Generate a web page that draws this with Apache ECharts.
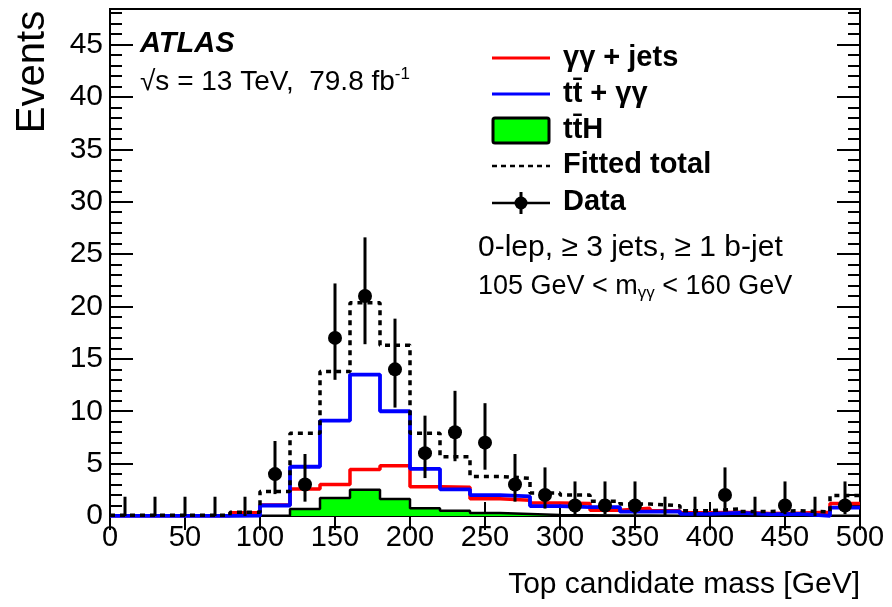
<!DOCTYPE html>
<html>
<head>
<meta charset="utf-8">
<script src="https://cdn.jsdelivr.net/npm/echarts@6/dist/echarts.min.js"></script>
<style>
html, body { margin: 0; padding: 0; background: #fff; }
#chart { width: 892px; height: 607px; }
</style>
</head>
<body>
<div id="chart"></div>
<script>
// 20 GeV bins, lower edges
var binEdges = [0, 20, 40, 60, 80, 100, 120, 140, 160, 180, 200, 220, 240, 260, 280, 300, 320, 340, 360, 380, 400, 420, 440, 460, 480];
var lastEdge = 500;

// gamma gamma + jets (red)
var ggJets = [0.03, 0.03, 0.03, 0.03, 0.3, 1.05, 2.57, 3.0, 4.45, 4.8, 2.8, 2.75, 1.65, 1.5, 1.24, 1.2, 0.55, 0.73, 0.5, 0.3, 0.35, 0.25, 0.28, 0.35, 1.2];
// ttbar + gamma gamma (blue)
var ttGG = [0.02, 0.02, 0.02, 0.02, 0.03, 1.0, 4.7, 9.1, 13.5, 10.0, 4.5, 2.55, 2.0, 1.87, 0.95, 0.85, 0.85, 0.41, 0.45, 0.2, 0.3, 0.18, 0.2, 0.02, 0.8];
// ttH (green)
var ttH = [0, 0, 0, 0, 0.02, 0.05, 0.67, 1.71, 2.5, 1.62, 0.73, 0.5, 0.28, 0.2, 0.1, 0.08, 0.05, 0.04, 0.03, 0.02, 0.02, 0.02, 0.02, 0.02, 0.02];
// fitted total (dashed)
var fitted = [0.06, 0.06, 0.06, 0.06, 0.35, 2.35, 7.9, 13.8, 20.35, 16.3, 7.9, 5.65, 3.78, 3.6, 2.2, 2.0, 1.4, 1.14, 0.98, 0.51, 0.67, 0.44, 0.5, 0.4, 1.95];

// data points at bin centres, with error bar ends
var dataX  = [10, 30, 50, 70, 90, 110, 130, 150, 170, 190, 210, 230, 250, 270, 290, 310, 330, 350, 370, 390, 410, 430, 450, 470, 490];
var dataY  = [0, 0, 0, 0, 0, 4, 3, 17, 21, 14, 6, 8, 7, 3, 2, 1, 1, 1, 0, 0, 2, 0, 1, 0, 1];
var dataLo = [0, 0, 0, 0, 0, 2.09, 1.37, 13.0, 16.4, 10.35, 3.62, 5.23, 4.42, 1.37, 0.71, 0.17, 0.17, 0.17, 0, 0, 0.71, 0, 0.17, 0, 0.17];
var dataHi = [1.84, 1.84, 1.84, 1.84, 1.84, 7.16, 5.92, 22.2, 26.6, 18.84, 9.58, 11.95, 10.77, 5.92, 4.64, 3.3, 3.3, 3.3, 1.84, 1.84, 4.64, 1.84, 3.3, 1.84, 3.3];

var xMin = 0, xMax = 500, xStep = 50;
var yMin = 0, yMax = 48.4, yStep = 5, yMinorStep = 1;

var FONT = 'Liberation Sans, Arial, sans-serif';

function histPoints(vals) {
  var pts = [];
  for (var i = 0; i < binEdges.length; i++) pts.push([binEdges[i], vals[i]]);
  pts.push([lastEdge, vals[vals.length - 1]]);
  return pts;
}

var errData = [];
var markData = [];
for (var i = 0; i < dataX.length; i++) {
  errData.push([dataX[i], dataLo[i], dataHi[i]]);
  if (dataY[i] > 0) markData.push([dataX[i], dataY[i]]);
}

var myChart = echarts.init(document.getElementById('chart'));

var tickStyle = { color: '#000', width: 2 };

function yAxisCfg(pos, step, len, labels) {
  return {
    type: 'value', position: pos, min: yMin, max: yMax, interval: step,
    axisLine: { show: false },
    axisTick: { show: true, inside: true, length: len, lineStyle: tickStyle },
    splitLine: { show: false },
    axisLabel: labels ? {
      show: true, fontSize: 30, color: '#000', fontFamily: FONT, margin: 7,
      showMaxLabel: false,
      formatter: function (v) { return (v % yStep === 0) ? String(v) : ''; }
    } : { show: false }
  };
}

function xAxisCfg(pos, labels) {
  return {
    type: 'value', position: pos, min: xMin, max: xMax, interval: xStep,
    axisLine: { show: false },
    axisTick: { show: true, inside: true, length: 14, lineStyle: tickStyle },
    splitLine: { show: false },
    axisLabel: labels ? { show: true, fontSize: 29, color: '#000', fontFamily: FONT, margin: 7 } : { show: false }
  };
}

myChart.setOption({
  animation: false,
  backgroundColor: '#fff',
  grid: { left: 110, right: 32, top: 9, bottom: 91, show: true, borderColor: '#000', borderWidth: 2, backgroundColor: 'transparent' },
  xAxis: [xAxisCfg('bottom', true), xAxisCfg('top', false)],
  yAxis: [
    yAxisCfg('left', yStep, 23, true),
    yAxisCfg('left', yMinorStep, 12, false),
    yAxisCfg('right', yStep, 23, false),
    yAxisCfg('right', yMinorStep, 12, false)
  ],
  series: [
    {
      name: 'ttH', type: 'line', step: 'end', symbol: 'none', z: 2,
      data: histPoints(ttH),
      lineStyle: { color: '#000', width: 2.5 },
      areaStyle: { color: '#00ff00', opacity: 1 }
    },
    {
      name: 'gg jets', type: 'line', step: 'end', symbol: 'none', z: 3,
      data: histPoints(ggJets),
      lineStyle: { color: '#ff0000', width: 3.5 }
    },
    {
      name: 'tt gg', type: 'line', step: 'end', symbol: 'none', z: 4,
      data: histPoints(ttGG),
      lineStyle: { color: '#0000ff', width: 3.8 }
    },
    {
      name: 'Fitted total', type: 'line', step: 'end', symbol: 'none', z: 5,
      data: histPoints(fitted),
      lineStyle: { color: '#000', width: 3.5, type: [5, 5], cap: 'butt' }
    },
    {
      name: 'Data err', type: 'custom', z: 6,
      data: errData,
      encode: { x: 0, y: [1, 2] },
      renderItem: function (params, api) {
        var p1 = api.coord([api.value(0), api.value(1)]);
        var p2 = api.coord([api.value(0), api.value(2)]);
        return {
          type: 'line',
          shape: { x1: p1[0], y1: p1[1], x2: p2[0], y2: p2[1] },
          style: { stroke: '#000', lineWidth: 3 }
        };
      }
    },
    {
      name: 'Data', type: 'scatter', z: 7,
      data: markData, symbol: 'circle', symbolSize: 14,
      itemStyle: { color: '#000', opacity: 1 }
    }
  ],
  graphic: [
    // axis titles
    { type: 'text', x: 33, y: 72, rotation: Math.PI / 2,
      style: { text: 'Events', font: '40px ' + FONT, fill: '#000', align: 'center', verticalAlign: 'middle' } },
    { type: 'text', x: 860, y: 585,
      style: { text: 'Top candidate mass [GeV]', font: '30px ' + FONT, fill: '#000', align: 'right', verticalAlign: 'middle' } },
    // labels
    { type: 'text', x: 140, y: 44,
      style: { text: 'ATLAS', font: 'italic bold 29px ' + FONT, fill: '#000', verticalAlign: 'middle' } },
    { type: 'text', x: 140, y: 82,
      style: {
        text: '√s = 13 TeV,  79.8 fb{sup|-1}', font: '28px ' + FONT, fill: '#000', verticalAlign: 'middle',
        rich: { sup: { fontSize: 17, fontFamily: FONT, verticalAlign: 'top', padding: [0, 0, 15, 0] } }
      } },
    { type: 'text', x: 478, y: 248,
      style: { text: '0-lep, ≥ 3 jets, ≥ 1 b-jet', font: '30px ' + FONT, fill: '#000', verticalAlign: 'middle' } },
    { type: 'text', x: 478, y: 287,
      style: {
        text: '105 GeV < m{sub|γγ} < 160 GeV', font: '27px ' + FONT, fill: '#000', verticalAlign: 'middle',
        rich: { sub: { fontSize: 17, fontFamily: FONT, verticalAlign: 'bottom', padding: [12, 0, 0, 0] } }
      } },
    // legend
    { type: 'line', shape: { x1: 492, y1: 58, x2: 550, y2: 58 }, style: { stroke: '#ff0000', lineWidth: 3 } },
    { type: 'line', shape: { x1: 492, y1: 94, x2: 550, y2: 94 }, style: { stroke: '#0000ff', lineWidth: 3 } },
    { type: 'rect', shape: { x: 493, y: 118, width: 56, height: 25, r: 2 }, style: { fill: '#00ff00', stroke: '#000', lineWidth: 3 } },
    { type: 'line', shape: { x1: 492, y1: 166, x2: 550, y2: 166 }, style: { stroke: '#000', lineWidth: 2.5, lineDash: [5, 4] } },
    { type: 'line', shape: { x1: 492, y1: 203, x2: 550, y2: 203 }, style: { stroke: '#000', lineWidth: 2.5 } },
    { type: 'line', shape: { x1: 521, y1: 192, x2: 521, y2: 214 }, style: { stroke: '#000', lineWidth: 3 } },
    { type: 'circle', shape: { cx: 521, cy: 203, r: 6.5 }, style: { fill: '#000' } },
    { type: 'text', x: 563, y: 58, style: { text: 'γγ + jets', font: 'bold 29px ' + FONT, fill: '#000', verticalAlign: 'middle' } },
    { type: 'text', x: 563, y: 94, style: { text: 'tt\u0304 + γγ', font: 'bold 29px ' + FONT, fill: '#000', verticalAlign: 'middle' } },
    { type: 'text', x: 563, y: 130, style: { text: 'tt\u0304H', font: 'bold 29px ' + FONT, fill: '#000', verticalAlign: 'middle' } },
    { type: 'text', x: 563, y: 165, style: { text: 'Fitted total', font: 'bold 29px ' + FONT, fill: '#000', verticalAlign: 'middle' } },
    { type: 'text', x: 563, y: 202, style: { text: 'Data', font: 'bold 29px ' + FONT, fill: '#000', verticalAlign: 'middle' } }
  ]
});
</script>
</body>
</html>
